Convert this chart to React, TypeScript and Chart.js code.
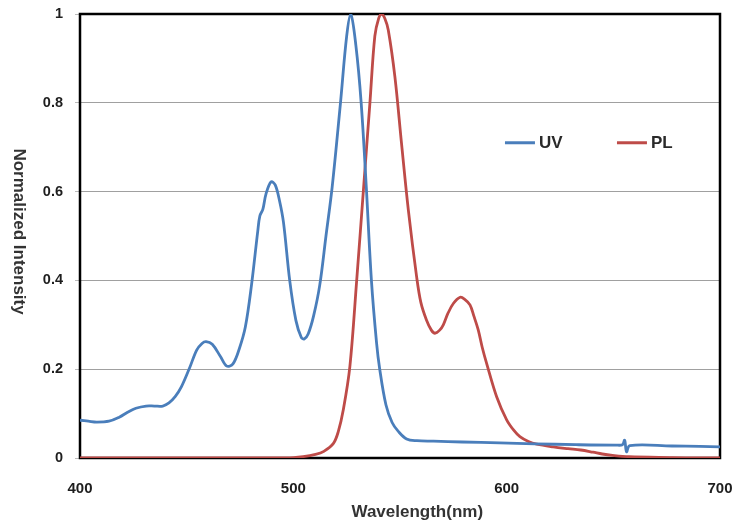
import React, { useEffect, useRef } from "react";
import { Chart, registerables } from "chart.js";

Chart.register(...registerables);

const uvWavelength = [
  400, 403.9, 407.8, 413.6, 418.4, 422.3, 426.2, 431, 434.9, 438.8, 441.7, 444.6, 447.5, 451.3, 454.7,
  457.2, 459.1, 462, 465.9, 468.8, 471.7, 474.6, 477.5, 480.4, 483.3, 484.3, 485.7, 487.2, 489.6, 491.5,
  493.5, 495.4, 498.3, 501.2, 503.7, 505.1, 507, 509.5, 512.4, 515.3, 518.2, 522.1, 525, 526.9, 529.3,
  531.8, 534.2, 536.6, 539, 540.5, 543.4, 546.3, 549.2, 553.1, 557.9, 565.7, 579.2, 596.7, 613.1, 632.5,
  651.3, 654.3, 655.3, 656.2, 657.7, 677.5, 690.6, 700,
];
const uvIntensity = [
  0.085, 0.083, 0.081, 0.083, 0.092, 0.103, 0.112, 0.117, 0.117, 0.117, 0.124, 0.138, 0.16, 0.202, 0.243,
  0.258, 0.262, 0.256, 0.228, 0.207, 0.212, 0.245, 0.295, 0.39, 0.51, 0.545, 0.56, 0.595, 0.622, 0.615,
  0.58, 0.53, 0.4, 0.31, 0.272, 0.268, 0.28, 0.32, 0.39, 0.5, 0.61, 0.8, 0.95, 1.0, 0.93, 0.8, 0.61, 0.4,
  0.26, 0.2, 0.12, 0.08, 0.06, 0.043, 0.039, 0.038, 0.036, 0.034, 0.032, 0.03, 0.029, 0.03, 0.04, 0.014,
  0.028, 0.027, 0.026, 0.025,
];

const plWavelength = [
  400, 496.9, 504.6, 510.4, 514.3, 518.8, 521.1, 523.4, 526.5, 529.7, 532.8, 535.9, 538.2, 540, 541.4,
  542.9, 544.5, 547.6, 550.7, 553.9, 557.8, 559.8, 562.4, 564.7, 566.4, 568.6, 570.3, 572.4, 575, 578.2,
  580.2, 582.8, 584.6, 586.7, 588.5, 590.6, 595.3, 600, 603.4, 606.2, 610.2, 614.1, 621.8, 628.8, 634.7,
  640.5, 644.8, 649.6, 657.3, 677.5, 690.6, 700,
];
const plIntensity = [
  0, 0, 0.003, 0.008, 0.015, 0.033, 0.06, 0.108, 0.206, 0.4, 0.6, 0.8, 0.95, 0.99, 1.0, 0.99, 0.964, 0.859,
  0.709, 0.559, 0.408, 0.35, 0.311, 0.288, 0.281, 0.288, 0.3, 0.325, 0.348, 0.362, 0.358, 0.345, 0.32,
  0.288, 0.25, 0.213, 0.138, 0.086, 0.062, 0.048, 0.037, 0.031, 0.025, 0.021, 0.018, 0.013, 0.009, 0.006,
  0.003, 0.001, 0, 0,
];

const seriesNames = ["UV", "PL"];
const seriesColors = ["#4A7EBB", "#BE4B48"];
const xTitle = "Wavelength(nm)";
const yTitle = "Normalized Intensity";

const FONT = "'Liberation Sans', Arial, sans-serif";

const framePlugin = {
  id: "frame",
  beforeDatasetsDraw(chart: any) {
    const { ctx, chartArea } = chart;
    ctx.save();
    ctx.strokeStyle = "#000";
    ctx.lineWidth = 2.5;
    ctx.strokeRect(chartArea.left, chartArea.top, chartArea.right - chartArea.left, chartArea.bottom - chartArea.top);
    ctx.restore();
  },
};

const overlayPlugin = {
  id: "overlay",
  afterDraw(chart: any) {
    const { ctx, chartArea } = chart;
    const w = chartArea.right - chartArea.left;
    const h = chartArea.bottom - chartArea.top;
    // legend
    const y = chartArea.top + h * 0.29;
    const xs = [chartArea.left + w * 0.664, chartArea.left + w * 0.839];
    ctx.save();
    ctx.font = `bold 17px ${FONT}`;
    ctx.textBaseline = "middle";
    ctx.textAlign = "left";
    seriesNames.forEach((name, i) => {
      const x = xs[i];
      ctx.strokeStyle = seriesColors[i];
      ctx.lineWidth = 3;
      ctx.beginPath();
      ctx.moveTo(x, y);
      ctx.lineTo(x + 30, y);
      ctx.stroke();
      ctx.fillStyle = "#2a2a2a";
      ctx.fillText(name, x + 34, y + 1);
    });
    // x axis title
    ctx.fillStyle = "#333";
    ctx.textAlign = "center";
    ctx.fillText(xTitle, chartArea.left + w * 0.527, chart.height - 14);
    // y axis title, reading top to bottom
    ctx.translate(19, chartArea.top + h * 0.49);
    ctx.rotate(Math.PI / 2);
    ctx.fillText(yTitle, 0, 0);
    ctx.restore();
  },
};

function zeroPadding(scale: any) {
  scale.paddingTop = 0;
  scale.paddingBottom = 0;
  scale.paddingLeft = 0;
  scale.paddingRight = 0;
}

export default function App() {
  const ref = useRef<HTMLCanvasElement | null>(null);
  useEffect(() => {
    if (!ref.current) return;
    const uvData = uvWavelength.map((x, i) => ({ x, y: uvIntensity[i] }));
    const plData = plWavelength.map((x, i) => ({ x, y: plIntensity[i] }));
    const chart = new Chart(ref.current, {
      type: "line",
      data: {
        datasets: [
          {
            label: seriesNames[0],
            data: uvData,
            borderColor: seriesColors[0],
            borderWidth: 2.8,
            pointRadius: 0,
            tension: 0.35,
          },
          {
            label: seriesNames[1],
            data: plData,
            borderColor: seriesColors[1],
            borderWidth: 2.8,
            pointRadius: 0,
            tension: 0.35,
          },
        ],
      },
      options: {
        responsive: false,
        animation: false,
        layout: { padding: { top: 14, right: 15, bottom: 0, left: 0 } },
        plugins: { legend: { display: false }, tooltip: { enabled: false } },
        scales: {
          x: {
            type: "linear",
            min: 400,
            max: 700,
            ticks: {
              stepSize: 100,
              padding: 14,
              color: "#1e1e1e",
              font: { family: FONT, size: 15, weight: "bold" },
            },
            grid: { display: false },
            border: { display: false },
            title: { display: false },
            afterFit(scale: any) {
              scale.height = 68;
              zeroPadding(scale);
            },
          },
          y: {
            min: 0,
            max: 1,
            ticks: {
              stepSize: 0.2,
              padding: 12,
              color: "#1e1e1e",
              font: { family: FONT, size: 14.5, weight: "bold" },
              callback: (v: any) => String(Math.round(Number(v) * 10) / 10),
            },
            grid: { color: "#a0a0a0", lineWidth: 1, tickLength: 5, tickColor: "#bbb" },
            border: { display: false },
            title: { display: false },
            afterFit(scale: any) {
              scale.width = 80;
              zeroPadding(scale);
            },
          },
        },
      } as any,
      plugins: [framePlugin, overlayPlugin],
    });
    return () => chart.destroy();
  }, []);
  return (
    <div style={{ position: "fixed", left: 0, top: 0, width: 735, height: 526, background: "#fff" }}>
      <canvas ref={ref} width={735} height={526} style={{ display: "block" }} />
    </div>
  );
}
